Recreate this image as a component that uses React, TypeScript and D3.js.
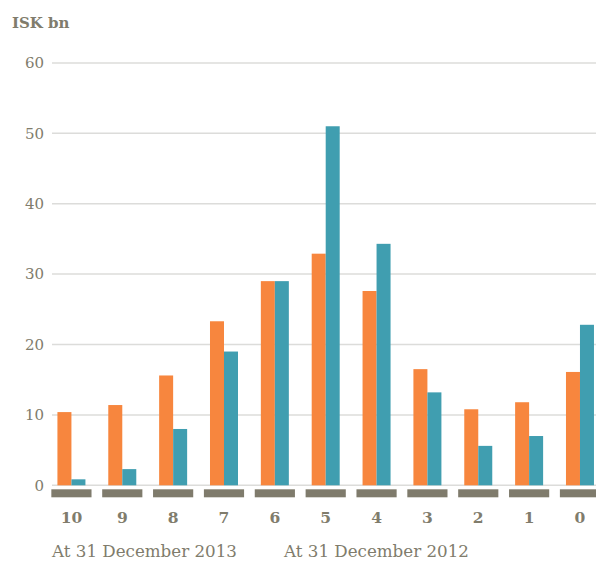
import React, { useEffect, useRef } from 'react';
import * as d3 from 'd3';

const categories = ['10', '9', '8', '7', '6', '5', '4', '3', '2', '1', '0'];
const seriesNames = ['At 31 December 2013', 'At 31 December 2012'];
const values2013 = [10.4, 11.4, 15.6, 23.3, 29.0, 32.9, 27.6, 16.5, 10.8, 11.8, 16.1];
const values2012 = [0.85, 2.3, 8.0, 19.0, 29.0, 51.0, 34.3, 13.2, 5.6, 7.0, 22.8];
const yTicks = [0, 10, 20, 30, 40, 50, 60];

const colors = ['#f7863e', '#409eb0'];
const textColor = '#807c6c';
const fontFamily = '"DejaVu Serif", "Liberation Serif", serif';

const App: React.FC = () => {
  const svgRef = useRef<SVGSVGElement | null>(null);

  useEffect(() => {
    if (!svgRef.current) return;
    const svg = d3.select(svgRef.current);
    svg.selectAll('*').remove();

    const width = 596;

    const y = d3.scaleLinear().domain([0, 60]).range([485.3, 62.9]);

    const x = d3.scaleBand()
      .domain(categories)
      .range([46, 605.4])
      .paddingInner(0.21)
      .paddingOuter(0.105);

    // inner scale for the two series
    const xs = d3.scaleBand()
      .domain(['0', '1'])
      .range([0, 28]);

    // title
    svg.append('text')
      .attr('x', 12)
      .attr('y', 28)
      .attr('fill', textColor)
      .attr('font-family', fontFamily)
      .attr('font-weight', 'bold')
      .attr('font-size', 15)
      .text('ISK bn');

    // grid + y labels
    const grid = svg.append('g');
    grid.selectAll('line')
      .data(yTicks)
      .join('line')
      .attr('x1', 52)
      .attr('x2', width)
      .attr('y1', d => y(d))
      .attr('y2', d => y(d))
      .attr('stroke', '#dcdcda')
      .attr('stroke-width', 1.5);

    grid.selectAll('text')
      .data(yTicks)
      .join('text')
      .attr('x', 44)
      .attr('y', d => y(d))
      .attr('dy', '0.35em')
      .attr('text-anchor', 'end')
      .attr('fill', textColor)
      .attr('font-family', fontFamily)
      .attr('font-size', 15)
      .text(d => String(d));

    // bars
    const series = [values2013, values2012];
    series.forEach((vals, si) => {
      svg.append('g')
        .selectAll('rect')
        .data(vals)
        .join('rect')
        .attr('x', (_, i) => x(categories[i])! + x.bandwidth() / 2 - 14 + xs(String(si))!)
        .attr('y', d => y(d))
        .attr('width', xs.bandwidth())
        .attr('height', d => y(0) - y(d))
        .attr('fill', colors[si]);
    });

    // grey category blocks
    svg.append('g')
      .selectAll('rect')
      .data(categories)
      .join('rect')
      .attr('x', d => x(d)!)
      .attr('y', 489.3)
      .attr('width', x.bandwidth())
      .attr('height', 8)
      .attr('fill', '#7f7b6c');

    // category labels
    svg.append('g')
      .selectAll('text')
      .data(categories)
      .join('text')
      .attr('x', d => x(d)! + x.bandwidth() / 2)
      .attr('y', 523)
      .attr('text-anchor', 'middle')
      .attr('fill', textColor)
      .attr('font-family', fontFamily)
      .attr('font-weight', 'bold')
      .attr('font-size', 15.5)
      .text(d => d);

    // legend (text only)
    svg.append('g')
      .selectAll('text')
      .data(seriesNames)
      .join('text')
      .attr('x', (_, i) => [52, 284][i])
      .attr('y', 557)
      .attr('fill', textColor)
      .attr('font-family', fontFamily)
      .attr('font-size', 16.7)
      .text(d => d);
  }, []);

  return (
    <svg
      ref={svgRef}
      width={596}
      height={563}
      style={{ position: 'absolute', left: 0, top: 0, display: 'block' }}
    />
  );
};

export default App;
